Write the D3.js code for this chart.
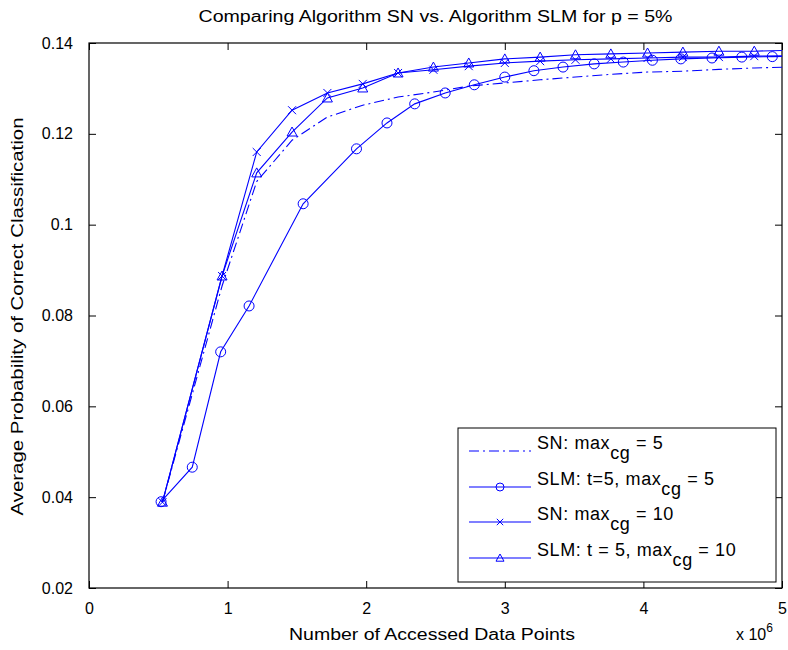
<!DOCTYPE html>
<html><head><meta charset="utf-8">
<script src="https://cdn.jsdelivr.net/npm/d3@7"></script>
<style>
body{margin:0;background:#fff;}
text{font-family:"Liberation Sans",Arial,sans-serif;fill:#000;}
</style></head>
<body><svg id="chart" width="788" height="650"></svg>
<script>
// ---- data (x in units of 10^6 accessed data points) ----
const xTicks = [0, 1, 2, 3, 4, 5];
const yTicks = [0.02, 0.04, 0.06, 0.08, 0.1, 0.12, 0.14];
const yTickLabels = ["0.02", "0.04", "0.06", "0.08", "0.1", "0.12", "0.14"];

const snX = [0.53, 0.96, 1.21, 1.465, 1.72, 1.975, 2.23, 2.485, 2.74, 3.0, 3.255, 3.51, 3.765, 4.03, 4.285, 4.545, 4.8, 5.05];
const sn5Y = [0.0389, 0.0865, 0.1095, 0.1186, 0.1237, 0.1263, 0.1281, 0.1292, 0.1305, 0.1312, 0.1319, 0.1325, 0.1331, 0.1336, 0.1338, 0.1342, 0.1345, 0.1347];
const sn10Y = [0.0389, 0.0887, 0.1160, 0.1252, 0.1290, 0.1310, 0.1334, 0.1341, 0.1349, 0.1356, 0.1360, 0.1363, 0.1365, 0.1367, 0.1369, 0.1369, 0.1371, 0.1372];
const slm10Y = [0.0389, 0.0887, 0.1114, 0.1204, 0.1279, 0.1301, 0.1334, 0.1347, 0.1356, 0.1365, 0.1369, 0.1374, 0.1376, 0.1378, 0.1380, 0.1382, 0.1382, 0.1384];

const slm5X = [0.52, 0.745, 0.95, 1.155, 1.545, 1.93, 2.15, 2.35, 2.57, 2.78, 3.0, 3.21, 3.42, 3.645, 3.855, 4.065, 4.27, 4.495, 4.71, 4.93, 5.145];
const slm5Y = [0.039, 0.0466, 0.072, 0.0821, 0.1046, 0.1167, 0.1224, 0.1266, 0.129, 0.1308, 0.1325, 0.1339, 0.1347, 0.1354, 0.1358, 0.1362, 0.1365, 0.1367, 0.1369, 0.137, 0.1371];

const titleText = "Comparing Algorithm SN vs. Algorithm SLM for p = 5%";
const xLabel = "Number of Accessed Data Points";
const yLabel = "Average Probability of Correct Classification";

const series = [
  {name: "SN: max", post: " = 5", xs: snX, ys: sn5Y, dash: "10,4,2,4", marker: "none"},
  {name: "SLM: t=5, max", post: " = 5", xs: slm5X, ys: slm5Y, dash: null, marker: "circle"},
  {name: "SN: max", post: " = 10", xs: snX, ys: sn10Y, dash: null, marker: "x"},
  {name: "SLM: t = 5, max", post: " = 10", xs: snX, ys: slm10Y, dash: null, marker: "triangle"}
];

// ---- layout ----
const L = 89, R = 782, T = 43, B = 588;
const blue = "#0000ff";
const svg = d3.select("#chart");
const x = d3.scaleLinear().domain([0, 5]).range([L, R]);
const y = d3.scaleLinear().domain([0.02, 0.14]).range([B, T]);

svg.append("defs").append("clipPath").attr("id", "clip")
  .append("rect").attr("x", L).attr("y", T).attr("width", R - L).attr("height", B - T);

// axes with inward ticks on all sides
const tl = 7;
svg.append("g").attr("transform", `translate(0,${B})`)
  .call(d3.axisBottom(x).tickValues(xTicks).tickSize(-tl).tickPadding(8 + tl).tickFormat(d3.format("d")))
  .call(g => g.select(".domain").remove());
svg.append("g").attr("transform", `translate(0,${T})`)
  .call(d3.axisTop(x).tickValues(xTicks).tickSize(-tl).tickFormat(""))
  .call(g => g.select(".domain").remove());
svg.append("g").attr("transform", `translate(${L},0)`)
  .call(d3.axisLeft(y).tickValues(yTicks).tickSize(-tl).tickPadding(9 + tl).tickFormat((d, i) => yTickLabels[i]))
  .call(g => g.select(".domain").remove());
svg.append("g").attr("transform", `translate(${R},0)`)
  .call(d3.axisRight(y).tickValues(yTicks).tickSize(-tl).tickFormat(""))
  .call(g => g.select(".domain").remove());
svg.selectAll(".tick line").attr("stroke", "#000");
svg.selectAll(".tick text").attr("font-size", 16).attr("fill", "#222").attr("font-family", "Liberation Sans, Arial, sans-serif");

svg.append("rect").attr("x", L).attr("y", T).attr("width", R - L).attr("height", B - T)
  .attr("fill", "none").attr("stroke", "#000").attr("stroke-width", 1.2);

// series
const plot = svg.append("g").attr("clip-path", "url(#clip)");
const line = d3.line().x(d => x(d[0])).y(d => y(d[1]));

function drawMarker(g, type, cx, cy, k) {
  k = k || 1;
  if (type === "circle") {
    g.append("circle").attr("cx", cx).attr("cy", cy).attr("r", 5 * k)
      .attr("fill", "none").attr("stroke", blue).attr("stroke-width", 1);
  } else if (type === "x") {
    const s = 4 * k;
    g.append("path").attr("d", `M${cx - s},${cy - s}L${cx + s},${cy + s}M${cx - s},${cy + s}L${cx + s},${cy - s}`)
      .attr("stroke", blue).attr("stroke-width", 1).attr("fill", "none");
  } else if (type === "triangle") {
    const s = 5 * k;
    g.append("path").attr("d", `M${cx},${cy - s}L${cx + s},${cy + s * 0.8}L${cx - s},${cy + s * 0.8}Z`)
      .attr("stroke", blue).attr("stroke-width", 1).attr("fill", "none");
  }
}

series.forEach(s => {
  const pts = s.xs.map((v, i) => [v, s.ys[i]]);
  plot.append("path").datum(pts).attr("d", line)
    .attr("fill", "none").attr("stroke", blue).attr("stroke-width", 1.1)
    .attr("stroke-dasharray", s.dash);
  if (s.marker !== "none") {
    const mg = plot.append("g");
    pts.forEach(p => drawMarker(mg, s.marker, x(p[0]), y(p[1])));
  }
});

// title and labels
svg.append("text").attr("x", (L + R) / 2).attr("y", 22).attr("text-anchor", "middle")
  .attr("font-size", 16).attr("textLength", 474).attr("lengthAdjust", "spacingAndGlyphs").text(titleText);
svg.append("text").attr("x", 432).attr("y", 640).attr("text-anchor", "middle")
  .attr("font-size", 16).attr("textLength", 286).attr("lengthAdjust", "spacingAndGlyphs").text(xLabel);
svg.append("text").attr("transform", `translate(23,${(T + B) / 2 + 1}) rotate(-90)`).attr("text-anchor", "middle")
  .attr("font-size", 16).attr("textLength", 398).attr("lengthAdjust", "spacingAndGlyphs").text(yLabel);
const ex = svg.append("text").attr("x", 736).attr("y", 640).attr("font-size", 16);
ex.append("tspan").text("x 10");
ex.append("tspan").attr("dy", -8).attr("font-size", 12).text("6");

// legend
const lx = 458, ly = 428, lw = 318, lh = 154;
const leg = svg.append("g");
leg.append("rect").attr("x", lx).attr("y", ly).attr("width", lw).attr("height", lh)
  .attr("fill", "#fff").attr("stroke", "#000").attr("stroke-width", 1);
const rowY = [451, 487, 522, 558];
series.forEach((s, i) => {
  const ry = rowY[i];
  leg.append("line").attr("x1", 469).attr("x2", 531).attr("y1", ry).attr("y2", ry)
    .attr("stroke", blue).attr("stroke-width", 1.1).attr("stroke-dasharray", s.dash);
  if (s.marker !== "none") drawMarker(leg, s.marker, 500, ry, 0.8);
  const t = leg.append("text").attr("x", 537).attr("y", ry - 2).attr("font-size", 18)
    .attr("letter-spacing", 0.6);
  t.append("tspan").text(s.name);
  t.append("tspan").attr("dy", 10).text("cg");
  t.append("tspan").attr("dy", -10).text(s.post);
});
</script></body></html>
